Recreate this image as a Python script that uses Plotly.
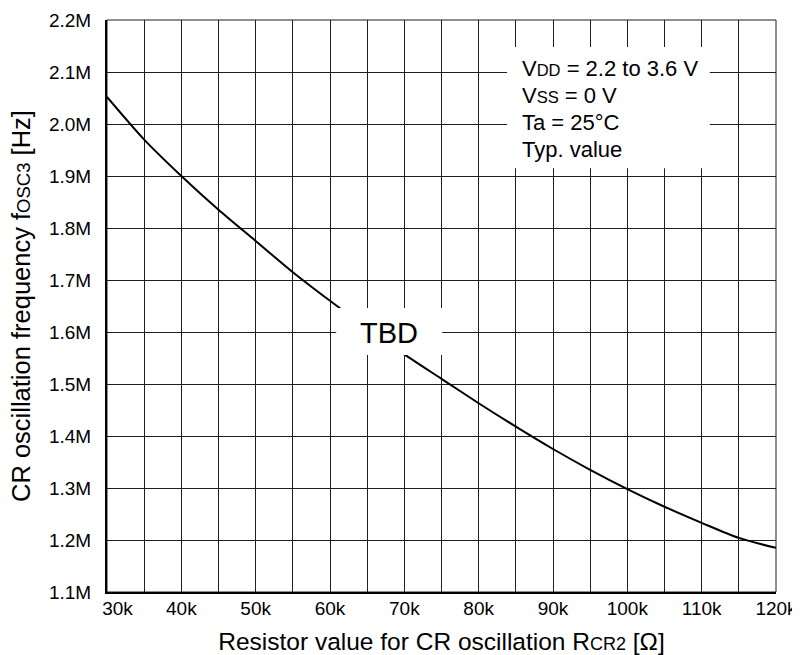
import plotly.graph_objects as go

# ---- data ----
resistance_ohm = [30000, 35000, 40000, 45000, 50000, 55000, 60000, 65000, 70000,
                  75000, 80000, 85000, 90000, 95000, 100000, 105000, 110000, 115000, 120000]
frequency_hz = [2.052e6, 1.970e6, 1.900e6, 1.835e6, 1.775e6, 1.715e6, 1.660e6, 1.607e6, 1.557e6,
                1.510e6, 1.463e6, 1.418e6, 1.375e6, 1.335e6, 1.298e6, 1.264e6, 1.233e6, 1.204e6, 1.185e6]

x_tick_vals = [30000, 40000, 50000, 60000, 70000, 80000, 90000, 100000, 110000, 120000]
x_tick_labels = ["30k", "40k", "50k", "60k", "70k", "80k", "90k", "100k", "110k", "120k"]
y_tick_vals = [1.1e6, 1.2e6, 1.3e6, 1.4e6, 1.5e6, 1.6e6, 1.7e6, 1.8e6, 1.9e6, 2.0e6, 2.1e6, 2.2e6]
y_tick_labels = ["1.1M", "1.2M", "1.3M", "1.4M", "1.5M", "1.6M", "1.7M", "1.8M", "1.9M", "2.0M", "2.1M", "2.2M"]

condition_lines = [
    "V<span style='font-size:16.5px'>DD</span> = 2.2 to 3.6 V",
    "V<span style='font-size:16.5px'>SS</span> = 0 V",
    "Ta = 25°C",
    "Typ. value",
]

x_title = "Resistor value for CR oscillation R<span style='font-size:18px'>CR2</span> [Ω]"
y_title = "CR oscillation frequency f<span style='font-size:18.5px'>OSC3</span> [Hz]"

FONT = "Liberation Sans, Arial, Helvetica, sans-serif"
GRID = "#1e1e1e"

# first x label is nudged right as in the reference
x_tick_text = ["\u00a0" * 4 + x_tick_labels[0]] + x_tick_labels[1:]

fig = go.Figure()
fig.add_trace(go.Scatter(
    x=resistance_ohm, y=frequency_hz, mode="lines",
    line=dict(color="black", width=2, shape="spline", smoothing=0.8),
    hoverinfo="skip", showlegend=False,
))

# page body adds an 8px margin, so the figure is 792x647
fig.update_layout(
    width=792, height=647,
    margin=dict(l=99, r=24, t=12, b=63, autoexpand=False),
    paper_bgcolor="white", plot_bgcolor="white",
    font=dict(family=FONT, size=19, color="black"),
    showlegend=False,
    xaxis=dict(
        range=[30000, 120000], tickmode="array",
        tickvals=x_tick_vals, ticktext=x_tick_text,
        showgrid=True, gridcolor=GRID, gridwidth=1,
        minor=dict(dtick=5000, tick0=30000, showgrid=True, gridcolor=GRID, gridwidth=1),
        showline=True, linecolor="black", linewidth=2,
        ticks="", ticklabelstandoff=-2, zeroline=False, automargin=False,
        tickfont=dict(size=19),
        title=dict(text=x_title, font=dict(size=24.5), standoff=16),
    ),
    yaxis=dict(
        range=[1.1e6, 2.2e6], tickmode="array",
        tickvals=y_tick_vals, ticktext=y_tick_labels,
        showgrid=True, gridcolor=GRID, gridwidth=1,
        showline=True, linecolor="black", linewidth=2,
        ticks="", ticklabelstandoff=10, zeroline=False, automargin=False,
        tickfont=dict(size=19),
    ),
)

# y-axis title placed precisely
fig.add_annotation(text=y_title, xref="paper", yref="paper", x=-0.1285, y=0.5,
                   xanchor="center", yanchor="middle", textangle=-90, showarrow=False,
                   font=dict(size=25.5, family=FONT, color="black"))

# outer frame (top/right edges are gridline coloured)
fig.add_shape(type="rect", xref="paper", yref="paper", x0=0, x1=1, y0=0, y1=1,
              line=dict(color=GRID, width=1), layer="below")

# white boxes for the conditions text and the TBD mark
fig.add_shape(type="rect", xref="paper", yref="paper",
              x0=0.598, x1=0.901, y0=0.741, y1=0.953,
              fillcolor="white", line=dict(width=0), layer="above")
fig.add_shape(type="rect", xref="paper", yref="paper",
              x0=0.3426, x1=0.501, y0=0.4143, y1=0.4965,
              fillcolor="white", line=dict(width=0), layer="above")

# condition text lines
line_y = [0.916, 0.868, 0.820, 0.773]
for txt, yy in zip(condition_lines, line_y):
    fig.add_annotation(text=txt, xref="paper", yref="paper", x=0.6175, y=yy,
                       xanchor="left", yanchor="middle", showarrow=False,
                       font=dict(size=22, family=FONT, color="black"), align="left")

fig.add_annotation(text="TBD", xref="paper", yref="paper", x=0.421, y=0.453,
                   xanchor="center", yanchor="middle", showarrow=False,
                   font=dict(size=29, family=FONT, color="black"))

fig.write_html("out.html")
